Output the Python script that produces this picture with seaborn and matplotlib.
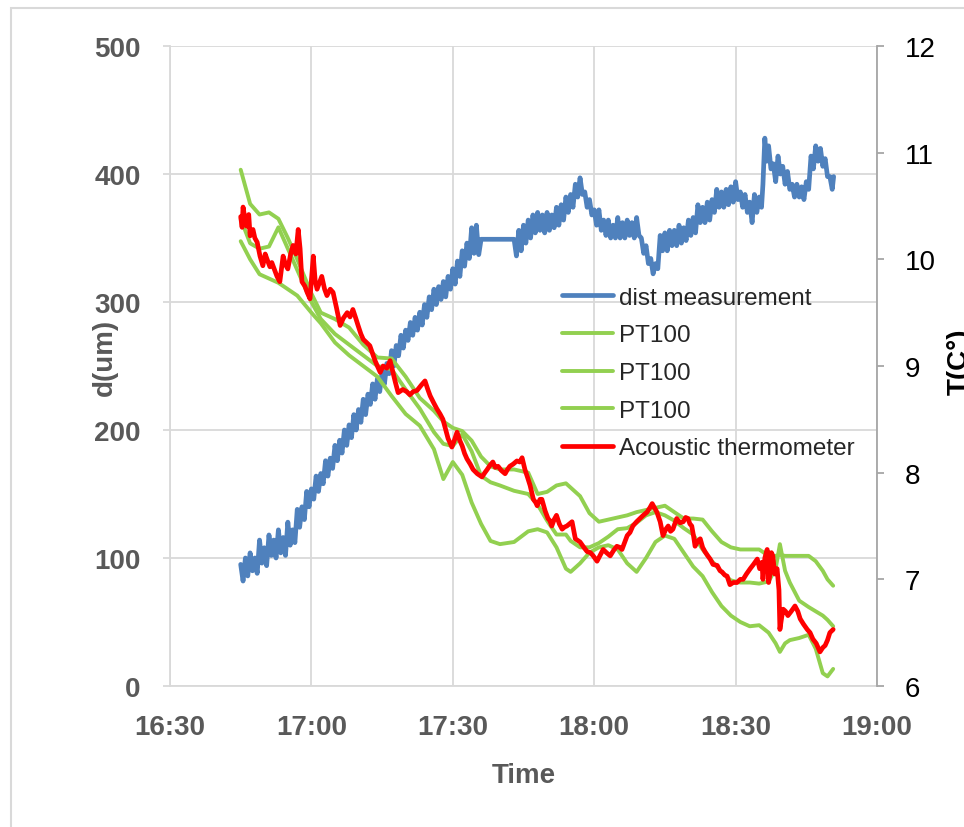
import matplotlib
matplotlib.use("Agg")
import matplotlib.pyplot as plt
from matplotlib.patches import Rectangle
import seaborn as sns

# all times are minutes after 16:00
blue_t = [45.0, 45.5, 46.0, 46.5, 47.0, 47.5, 48.0, 48.5, 49.0, 49.5, 50.0, 50.5, 51.0, 51.5, 52.0, 52.5,
          53.0, 53.5, 54.0, 54.5, 55.0, 55.5, 56.0, 56.5, 57.0, 57.5, 58.0, 58.5, 59.0, 59.5, 60.0, 60.5,
          61.0, 61.5, 62.0, 62.5, 63.0, 63.5, 64.0, 64.5, 65.0, 65.5, 66.0, 66.5, 67.0, 67.5, 68.0, 68.5,
          69.0, 69.5, 70.0, 70.5, 71.0, 71.5, 72.0, 72.5, 73.0, 73.5, 74.0, 74.5, 75.0, 75.5, 76.0, 76.5,
          77.0, 77.5, 78.0, 78.5, 79.0, 79.5, 80.0, 80.5, 81.0, 81.5, 82.0, 82.5, 83.0, 83.5, 84.0, 84.5,
          85.0, 85.5, 86.0, 86.5, 87.0, 87.5, 88.0, 88.5, 89.0, 89.5, 90.0, 90.5, 91.0, 91.5, 92.0, 92.5,
          93.0, 93.5, 94.0, 94.5, 95.0, 95.5, 96.0, 103.0, 103.5,
          104.0, 104.5, 105.0, 105.5, 106.0, 106.5, 107.0, 107.5, 108.0, 108.5, 109.0, 109.5, 110.0, 110.5,
          111.0, 111.5, 112.0, 112.5, 113.0, 113.5, 114.0, 114.5, 115.0, 115.5, 116.0, 116.5, 117.0, 117.5,
          118.0, 118.5, 119.0, 119.5, 120.0, 120.5, 121.0, 121.5, 122.0, 122.5, 123.0, 123.5, 124.0, 124.5,
          125.0, 125.5, 126.0, 126.5, 127.0, 127.5, 128.0, 128.5, 129.0, 129.5, 130.0, 130.5, 131.0, 131.5,
          132.0, 132.5, 133.0, 133.5, 134.0, 134.5, 135.0, 135.5, 136.0, 136.5, 137.0, 137.5, 138.0, 138.5,
          139.0, 139.5, 140.0, 140.5, 141.0, 141.5, 142.0, 142.5, 143.0, 143.5, 144.0, 144.5, 145.0, 145.5,
          146.0, 146.5, 147.0, 147.5, 148.0, 148.5, 149.0, 149.5, 150.0, 150.5, 151.0, 151.5, 152.0, 152.5,
          153.0, 153.5, 154.0, 154.5, 155.0, 155.5, 155.8, 156.2, 156.6, 157.0, 157.5, 158.0, 158.5, 159.0,
          159.5, 160.0, 160.5, 161.0, 161.5, 162.0, 162.5, 163.0, 163.5, 164.0, 164.5, 165.0, 165.5, 166.0,
          166.5, 167.0, 167.5, 168.0, 168.5, 169.0, 169.5, 170.0, 170.5, 170.8]
blue_d = [95, 82, 100, 86, 104, 90, 100, 88, 114, 96, 108, 94, 118, 102, 114, 100,
          122, 104, 116, 102, 128, 110, 122, 112, 138, 124, 140, 130, 152, 140, 154, 146,
          164, 152, 166, 158, 176, 164, 178, 170, 188, 176, 192, 182, 200, 188, 204, 194,
          212, 200, 216, 206, 224, 212, 228, 220, 236, 224, 240, 230, 246, 236, 252, 244,
          262, 250, 266, 258, 274, 264, 278, 270, 284, 274, 288, 278, 292, 282, 298, 288,
          304, 294, 310, 298, 312, 302, 316, 304, 320, 310, 326, 314, 332, 320, 340, 328,
          346, 334, 358, 338, 360, 337, 349, 349, 336,
          356, 340, 360, 346, 364, 350, 368, 354, 370, 356, 368, 354, 370, 356,
          368, 358, 374, 360, 376, 364, 382, 370, 384, 374, 392, 382, 397, 384,
          386, 374, 380, 368, 372, 360, 372, 356, 364, 352, 364, 350, 360, 350,
          366, 350, 362, 350, 364, 352, 362, 350, 366, 352, 350, 338, 344, 330,
          334, 322, 330, 326, 352, 340, 354, 340, 356, 344, 356, 344, 360, 346,
          358, 348, 364, 352, 366, 354, 376, 362, 374, 362, 378, 364, 380, 370,
          388, 374, 386, 374, 388, 376, 390, 378, 394, 380, 386, 374, 384, 370,
          378, 362, 384, 370, 382, 374, 392, 428, 410, 422, 404, 408, 394, 414,
          400, 406, 392, 402, 388, 392, 382, 392, 382, 390, 380, 394, 388, 414,
          404, 422, 410, 420, 406, 412, 398, 398, 388, 398]

pt_t = [45, 47, 49, 51, 53, 55, 57, 60, 62, 65, 68, 71, 74, 77, 80, 83, 86, 88, 90, 92,
        94, 96, 98, 100, 103, 106, 108, 110, 112, 114, 115, 117, 119, 121, 123, 125, 127, 129, 131, 133,
        135, 137, 139, 141, 143, 145, 147, 149, 151, 153, 155, 157, 158.5, 159.4, 160.5, 161.5, 163.5, 165.5, 167, 168.5,
        169.5, 170.7]
pt_1 = [10.84, 10.52, 10.42, 10.44, 10.38, 10.2, 10.0, 9.68, 9.5, 9.44, 9.36, 9.2, 9.08, 9.07, 8.9, 8.7, 8.58, 8.48, 8.42, 8.39,
        8.3, 8.15, 8.06, 8.03, 8.03, 8.0, 7.8, 7.82, 7.88, 7.9, 7.86, 7.78, 7.62, 7.54, 7.56, 7.58, 7.6, 7.63, 7.65, 7.67,
        7.69, 7.63, 7.57, 7.57, 7.56, 7.45, 7.35, 7.3, 7.28, 7.28, 7.28, 7.22, 7.22, 7.23, 7.22, 7.22, 7.22, 7.22, 7.17, 7.08,
        7.0, 6.94]
pt_2 = [10.38, 10.15, 10.1, 10.12, 10.3, 10.1, 9.9, 9.6, 9.44, 9.3, 9.2, 9.1, 9.0, 8.97, 8.78, 8.6, 8.38, 8.27, 8.25, 8.36,
        8.2, 7.97, 7.91, 7.88, 7.83, 7.8, 7.7, 7.55, 7.42, 7.42, 7.36, 7.3, 7.3, 7.34, 7.4, 7.47, 7.48, 7.53, 7.6, 7.63,
        7.6, 7.55, 7.48, 7.42, 7.28, 7.17, 7.07, 6.99, 6.97, 6.97, 6.96, 6.98, 7.1, 7.33, 7.08, 6.97, 6.8, 6.74, 6.7, 6.66,
        6.62, 6.56]
pt_3 = [10.17, 10.0, 9.86, 9.82, 9.78, 9.72, 9.66, 9.5, 9.4, 9.22, 9.1, 9.0, 8.9, 8.72, 8.55, 8.44, 8.22, 7.94, 8.1, 7.98,
        7.72, 7.52, 7.36, 7.33, 7.35, 7.45, 7.47, 7.44, 7.3, 7.1, 7.07, 7.15, 7.25, 7.3, 7.32, 7.28, 7.15, 7.07, 7.2, 7.35,
        7.41, 7.38, 7.25, 7.12, 7.03, 6.88, 6.75, 6.66, 6.6, 6.56, 6.57, 6.5, 6.4, 6.32, 6.4, 6.43, 6.45, 6.48, 6.35, 6.12,
        6.09, 6.16]

ac_t = [45, 45.3, 45.5, 46, 46.3, 46.7, 47, 47.6, 48, 48.5, 49.1, 49.7, 50.2, 50.6, 51.2, 51.6, 52.2, 52.7, 53.3, 54,
        54.5, 55, 55.6, 56.1, 56.7, 57.2, 57.6, 58, 58.6, 59.1, 59.7, 60.4, 60.8, 61.2, 61.7, 62.2, 62.8, 63.3, 64, 64.6,
        65.3, 66.1, 66.8, 67.6, 68.2, 68.8, 69.4, 69.9, 70.5, 71, 71.7, 72.4, 73.5, 74.6, 75.2, 76, 76.7, 77.3, 77.8, 78.4,
        79.4, 80.2, 80.9, 81.6, 82.4, 83.3, 84.1, 84.7, 85.2, 86, 86.6, 87.3, 87.9, 88.5, 89, 89.8, 90.3, 90.9, 91.5, 92,
        92.5, 93, 93.7, 94.3, 95.2, 96.2, 96.8, 97.3, 97.9, 98.5, 99, 99.6, 100.3, 101.1, 101.6, 102.1, 102.8, 103.6, 104.2, 104.7,
        105.3, 105.9, 106.4, 107.1, 107.6, 107.9, 108.5, 108.9, 109.6, 110.2, 110.6, 111, 111.5, 112, 112.6, 113.2, 113.7, 114.2, 115.3, 116,
        117, 117.8, 118.5, 119.2, 119.8, 120.6, 121.2, 121.9, 122.6, 123.4, 124.1, 124.8, 125.4, 125.9, 126.5, 127, 127.6, 128.2, 129, 129.7,
        130.4, 131.2, 131.8, 132.3, 132.8, 133.3, 134, 134.6, 135.2, 135.7, 136.2, 136.7, 137.1, 137.5, 138.2, 138.9, 139.4, 139.9, 140.3, 140.7,
        141.1, 141.4, 142, 142.5, 143, 143.5, 144.1, 144.6, 145.2, 146.1, 146.7, 147.1, 147.7, 148.2, 148.8, 149.5, 150.3, 151, 151.6, 152.3,
        153.1, 153.8, 154.6, 155.1, 155.6, 155.8, 156.2, 156.7, 157, 157.3, 157.6, 157.9, 158.3, 158.8, 159.2, 159.4, 159.8, 160.1, 160.6, 161.1,
        161.8, 162.6, 163.2, 163.7, 164.4, 165.2, 165.8, 166.4, 167.1, 167.9, 168.5, 169, 169.5, 170, 170.7]
ac_T = [10.4, 10.3, 10.49, 10.35, 10.31, 10.42, 10.22, 10.28, 10.2, 10.16, 10.03, 9.94, 10.05, 10.0, 9.93, 9.97, 9.9, 9.84, 9.79, 10.03,
        9.95, 9.91, 10.05, 10.13, 10.05, 10.28, 10.1, 9.79, 9.75, 9.69, 9.63, 10.03, 9.8, 9.72, 9.78, 9.84, 9.72, 9.66, 9.72, 9.69,
        9.55, 9.38, 9.45, 9.5, 9.46, 9.53, 9.45, 9.38, 9.3, 9.25, 9.22, 9.19, 9.05, 8.94, 9.0, 8.98, 9.05, 8.94, 8.85, 8.75,
        8.78, 8.76, 8.73, 8.76, 8.77, 8.82, 8.86, 8.78, 8.72, 8.65, 8.6, 8.55, 8.5, 8.4, 8.32, 8.24, 8.3, 8.38, 8.3, 8.25,
        8.18, 8.13, 8.08, 8.03, 7.99, 7.96, 8.0, 8.03, 8.07, 8.1, 8.05, 8.06, 8.02, 7.99, 8.03, 8.06, 8.08, 8.11, 8.1, 8.14,
        8.03, 7.95, 7.88, 7.75, 7.72, 7.69, 7.75, 7.75, 7.64, 7.57, 7.55, 7.5, 7.56, 7.6, 7.52, 7.47, 7.49, 7.5, 7.54, 7.38,
        7.35, 7.3, 7.26, 7.25, 7.22, 7.17, 7.22, 7.28, 7.25, 7.22, 7.27, 7.31, 7.3, 7.28, 7.35, 7.41, 7.44, 7.5, 7.54, 7.57,
        7.6, 7.63, 7.67, 7.71, 7.67, 7.63, 7.54, 7.41, 7.47, 7.5, 7.45, 7.47, 7.52, 7.57, 7.53, 7.54, 7.58, 7.57, 7.52, 7.5,
        7.4, 7.31, 7.36, 7.38, 7.3, 7.26, 7.22, 7.19, 7.14, 7.13, 7.08, 7.07, 7.04, 7.03, 6.95, 6.97, 6.97, 7.0, 7.0, 7.05,
        7.1, 7.14, 7.19, 7.1, 7.16, 7.0, 7.2, 7.28, 6.97, 7.05, 7.25, 7.22, 7.05, 7.1, 6.9, 6.53, 6.65, 6.72, 6.7, 6.66,
        6.7, 6.75, 6.7, 6.63, 6.58, 6.53, 6.5, 6.44, 6.4, 6.32, 6.36, 6.38, 6.43, 6.5, 6.53]

x_ticks = [30, 60, 90, 120, 150, 180]
x_labels = ["16:30", "17:00", "17:30", "18:00", "18:30", "19:00"]
d_ticks = [0, 100, 200, 300, 400, 500]
t_ticks = [6, 7, 8, 9, 10, 11, 12]

sns.set_style("white")
plt.rcParams["font.family"] = ["Liberation Sans", "DejaVu Sans"]

W, H = 964, 828
fig = plt.figure(figsize=(W / 100, H / 100), dpi=100)
ax = fig.add_axes([170 / W, 1 - 687 / H, 707 / W, 640 / H])
ax2 = ax.twinx()

sns.lineplot(x=blue_t, y=blue_d, ax=ax, color="#4f81bd", lw=3.4, label="dist measurement",
             estimator=None, sort=False)
for vals in (pt_1, pt_2, pt_3):
    sns.lineplot(x=pt_t, y=vals, ax=ax2, color="#92d050", lw=2.8, label="PT100",
                 estimator=None, sort=False)
sns.lineplot(x=ac_t, y=ac_T, ax=ax2, color="#ff0000", lw=3.4, label="Acoustic thermometer",
             estimator=None, sort=False)

ax.set_xlim(30, 180)
ax.set_ylim(0, 500)
ax2.set_ylim(6, 12)
ax.set_xticks(x_ticks, x_labels)
ax.set_yticks(d_ticks)
ax2.set_yticks(t_ticks)

grid_c = "#d9d9d9"
ax.grid(True, color=grid_c, lw=1.3)
ax.set_axisbelow(True)
ax2.grid(False)
for s in ("top", "right"):
    ax.spines[s].set_visible(False)
for s in ("left", "bottom"):
    ax.spines[s].set_color(grid_c)
    ax.spines[s].set_linewidth(1.3)
for s in ("top", "left", "bottom"):
    ax2.spines[s].set_visible(False)
ax2.spines["right"].set_color("#a6a6a6")
ax2.spines["right"].set_linewidth(1.3)

ax.tick_params(axis="x", direction="out", length=5, width=1.3, color=grid_c,
               labelsize=20, labelcolor="#595959", pad=15)
ax.tick_params(axis="y", direction="out", length=5, width=1.3, color=grid_c,
               labelsize=20, labelcolor="#595959", pad=16)
ax2.tick_params(axis="y", direction="out", length=5, width=1.3, color="#a6a6a6",
                labelsize=20, labelcolor="black", pad=15)
for lab in ax.get_xticklabels() + ax.get_yticklabels():
    lab.set_fontweight("bold")

ax.set_xlabel("Time", fontsize=20, fontweight="bold", color="#595959")
ax.set_ylabel("d(um)", fontsize=20, fontweight="bold", color="#595959")
ax2.set_ylabel("T(C°)", fontsize=20, fontweight="bold", color="black")
ax.xaxis.set_label_coords(0.5, (687 - 763) / 640)
ax.yaxis.set_label_coords((118 - 170) / 707, 0.515)
ax2.yaxis.set_label_coords((947 - 170) / 707, 0.508)

h1, l1 = ax.get_legend_handles_labels()
h2, l2 = ax2.get_legend_handles_labels()
for a in (ax, ax2):
    if a.get_legend() is not None:
        a.get_legend().remove()
ax2.legend(h1 + h2, l1 + l2, loc="center left",
           bbox_to_anchor=((562 - 170) / 707, (687 - 374) / 640),
           frameon=False, fontsize=17.5, handlelength=2.1, handletextpad=0.25,
           labelspacing=0.64, borderaxespad=0, borderpad=0)

fig.add_artist(Rectangle((11 / W, -0.1), 1.2, 1.1 - 9 / H, transform=fig.transFigure,
                         fill=False, ec=grid_c, lw=1.5))

fig.savefig("out.png", dpi=100)
